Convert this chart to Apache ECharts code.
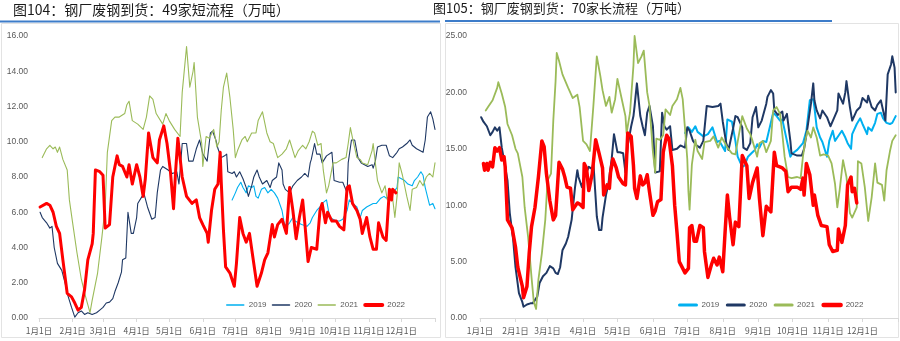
<!DOCTYPE html>
<html><head><meta charset="utf-8">
<script src="https://cdn.jsdelivr.net/npm/echarts@6/dist/echarts.min.js"></script>
<style>html,body{margin:0;padding:0;background:#fff;}#c{width:900px;height:341px;}</style>
</head><body><div id="c"></div>
<script>
const titleLeft = '图104：钢厂废钢到货：49家短流程（万吨）';
const titleRight = '图105：钢厂废钢到货：70家长流程（万吨）';
const seriesNames = ['2019', '2020', '2021', '2022'];
const monthDays = [0, 31, 59, 90, 120, 151, 181, 212, 243, 273, 304, 334];
const monthLabels = ['1月1日','2月1日','3月1日','4月1日','5月1日','6月1日','7月1日','8月1日','9月1日','10月1日','11月1日','12月1日'];

// Left chart: 49 short-process mills, [day of year, value]
const left2019 = [[178,6.7],[181,7.1],[183,7.4],[186,7.7],[188,7.4],[191,7.1],[193,7.5],[196,7.4],[198,7.5],[200,6.9],[202,6.8],[205,7.3],[208,7.4],[211,7.1],[214,7.3],[217,7.1],[220,6.8],[224,6.1],[226,5.4],[228,5.2],[231,5.4],[234,5.7],[236,5.5],[242,5.3],[247,5.2],[250,5.4],[252,5.7],[256,6.1],[259,6.3],[261,6.5],[265,6.7],[268,5.7],[271,5.6],[274,5.5],[277,5.5],[280,5.6],[284,6.1],[286,6.7],[289,6.5],[293,6.3],[296,5.7],[298,6.1],[302,6.3],[305,6.4],[308,6.5],[311,6.5],[315,6.8],[318,6.9],[320,6.8],[323,6.9],[326,7.1],[330,7.4],[331,8.0],[334,7.9],[337,7.8],[340,7.6],[344,7.5],[346,7.8],[349,8.0],[352,8.3],[354,8.1],[356,7.4],[358,6.9],[360,6.4],[363,6.5],[365,6.2]];
const left2020 = [[1,6.0],[3,5.7],[7,5.4],[10,5.1],[12,5.2],[14,4.0],[17,3.1],[21,2.7],[24,2.0],[26,1.4],[30,0.6],[33,0.05],[36,0.3],[39,0.4],[42,0.2],[45,0.3],[49,0.2],[53,0.3],[56,0.45],[59,0.6],[62,0.85],[65,0.9],[68,1.1],[70,1.5],[73,2.0],[76,2.6],[77,3.3],[80,3.4],[82,6.0],[85,4.8],[87,4.8],[90,5.7],[91,6.5],[95,6.9],[97,7.0],[100,6.3],[104,5.6],[107,5.7],[109,7.1],[112,8.4],[114,8.6],[119,8.4],[123,8.2],[127,8.3],[129,7.6],[131,9.1],[132,9.9],[136,9.9],[138,8.9],[142,8.9],[145,9.6],[148,10.1],[151,9.3],[155,8.9],[156,8.8],[158,10.5],[160,10.6],[163,10.1],[165,9.6],[168,9.1],[171,9.2],[173,9.3],[174,8.3],[178,8.2],[180,8.3],[182,8.0],[185,8.3],[188,7.9],[191,7.4],[193,6.9],[196,7.5],[198,8.0],[201,8.4],[203,8.0],[206,7.6],[210,7.8],[213,7.4],[215,7.8],[219,8.0],[221,8.8],[224,8.4],[225,7.6],[227,7.3],[231,7.1],[234,7.5],[238,7.8],[242,8.0],[245,8.2],[248,8.0],[250,8.8],[251,9.0],[254,9.9],[256,9.3],[259,9.3],[261,8.8],[265,9.2],[270,9.4],[272,7.8],[277,7.7],[280,7.7],[284,7.1],[285,8.8],[288,10.1],[291,10.1],[294,9.1],[297,8.8],[300,8.7],[303,8.6],[307,8.7],[308,8.5],[310,8.9],[312,9.7],[316,9.8],[320,9.8],[323,9.2],[326,9.1],[330,9.4],[332,9.6],[335,9.7],[339,9.9],[342,10.1],[344,9.8],[348,9.6],[351,9.5],[354,9.4],[356,10.1],[358,11.4],[361,11.7],[363,11.3],[365,10.7]];
const left2021 = [[3,9.1],[7,9.6],[10,9.8],[13,9.6],[15,9.7],[17,9.4],[19,9.7],[22,9.0],[26,8.4],[28,6.7],[31,5.4],[35,3.7],[39,2.2],[43,1.2],[47,0.3],[49,1.0],[54,2.55],[58,4.6],[61,6.3],[63,9.4],[67,11.2],[70,11.4],[74,11.4],[79,11.6],[81,12.1],[83,12.3],[86,11.2],[91,11.0],[96,10.7],[99,11.4],[102,12.6],[105,12.4],[108,11.6],[114,11.0],[117,11.6],[120,11.2],[125,10.7],[130,10.3],[132,12.8],[136,15.4],[139,13.1],[142,14.0],[143,14.5],[146,11.4],[150,9.9],[151,8.6],[154,10.3],[157,10.2],[161,10.7],[164,9.7],[166,10.0],[168,11.8],[170,13.1],[173,13.9],[176,12.5],[179,10.7],[181,9.1],[183,9.5],[187,10.1],[190,10.3],[192,10.0],[196,10.5],[200,10.5],[202,11.2],[206,11.7],[210,10.5],[213,10.0],[216,9.9],[220,9.1],[224,9.3],[228,9.6],[231,10.1],[234,9.5],[236,9.1],[239,9.5],[243,9.8],[246,9.6],[249,10.0],[252,10.6],[254,10.5],[257,9.8],[260,9.9],[262,8.4],[265,7.1],[267,7.5],[271,8.8],[274,8.8],[279,9.0],[283,9.1],[285,9.9],[287,10.8],[289,10.2],[293,9.1],[296,9.0],[298,8.8],[303,8.7],[307,9.5],[308,9.9],[310,8.8],[312,7.8],[316,7.1],[319,7.5],[321,6.7],[325,7.3],[328,5.7],[330,6.9],[332,8.8],[335,8.1],[339,6.9],[342,6.1],[344,7.3],[348,7.4],[351,7.8],[354,7.5],[357,8.0],[360,8.2],[363,8.0],[365,8.8]];
const left2022 = [[1,6.3],[7,6.5],[10,6.4],[13,6.0],[16,5.2],[19,4.8],[22,3.3],[26,1.4],[30,1.2],[33,0.85],[36,0.45],[39,0.6],[42,1.6],[45,3.3],[49,4.2],[50,4.8],[52,8.4],[56,8.3],[59,8.1],[61,5.1],[65,5.3],[68,8.0],[72,9.2],[74,8.7],[77,8.6],[81,8.0],[83,8.7],[86,7.6],[90,8.7],[93,8.0],[96,6.9],[98,7.9],[101,10.5],[105,9.1],[109,8.8],[111,10.1],[115,10.9],[118,9.9],[121,8.4],[124,6.2],[126,8.4],[128,10.2],[132,8.0],[136,6.9],[141,6.5],[145,6.7],[148,5.7],[151,5.3],[155,4.8],[156,4.3],[159,6.1],[162,7.3],[165,7.6],[167,9.4],[168,7.7],[170,5.0],[172,2.9],[176,2.55],[180,1.8],[182,3.1],[185,5.7],[188,4.8],[191,4.3],[194,4.8],[197,3.5],[201,1.8],[205,2.55],[208,3.3],[211,3.7],[215,5.3],[217,4.6],[220,5.3],[224,5.6],[228,4.8],[231,7.4],[234,6.1],[237,4.5],[240,5.7],[243,6.7],[245,5.4],[248,3.2],[251,4.0],[256,3.9],[259,6.1],[261,6.5],[264,5.4],[266,6.0],[270,5.5],[274,5.5],[277,5.2],[281,5.0],[284,7.4],[286,7.5],[289,6.5],[293,6.1],[296,5.6],[298,4.8],[302,5.7],[305,4.6],[308,3.9],[311,3.9],[313,5.4],[317,4.6],[320,4.4],[323,7.3],[325,6.7],[326,7.3],[329,7.1]];

// Right chart: 70 long-process mills, [day of year, value]
const right2019 = [[179,16.4],[182,16.9],[185,16.5],[188,17.0],[190,16.5],[195,16.1],[199,16.3],[203,16.9],[207,15.6],[209,15.7],[214,14.8],[216,17.6],[220,17.4],[223,15.7],[225,14.3],[229,13.4],[231,13.5],[234,14.3],[237,14.6],[240,14.9],[242,15.4],[244,15.1],[247,15.7],[250,15.6],[253,16.9],[256,18.2],[259,17.9],[262,17.5],[264,17.6],[268,15.7],[271,14.3],[273,14.6],[277,14.9],[282,15.5],[285,16.6],[288,19.3],[291,19.4],[292,18.7],[294,16.9],[297,16.0],[299,15.6],[303,14.3],[305,15.7],[308,16.6],[310,15.7],[312,16.0],[316,16.6],[319,16.0],[321,15.5],[324,15.0],[325,16.3],[329,17.2],[332,17.7],[334,17.2],[338,16.3],[339,16.9],[342,16.6],[345,17.3],[347,18.1],[350,18.2],[352,17.7],[355,17.3],[358,17.2],[360,17.3],[363,17.9]];
const right2020 = [[1,17.8],[3,17.4],[6,17.0],[9,16.2],[11,16.5],[13,16.9],[15,16.6],[17,16.9],[19,15.1],[21,14.0],[24,12.2],[26,9.3],[29,6.9],[31,4.5],[34,2.2],[37,1.4],[38,1.0],[41,1.2],[44,1.3],[46,1.3],[50,1.9],[52,3.1],[55,3.7],[58,4.0],[61,4.6],[64,4.4],[66,4.0],[68,3.9],[70,4.5],[72,6.0],[75,6.6],[77,7.2],[80,8.7],[83,11.6],[85,13.1],[86,12.5],[89,11.6],[91,12.5],[93,12.9],[95,13.4],[98,13.2],[99,13.8],[102,9.0],[104,7.8],[106,7.8],[107,8.9],[110,10.9],[112,11.8],[115,14.1],[117,16.3],[120,14.7],[122,14.7],[125,14.6],[127,12.9],[129,15.3],[132,17.0],[134,17.9],[135,18.8],[137,20.8],[140,17.9],[142,17.0],[144,16.2],[146,18.2],[148,18.8],[151,17.0],[153,12.9],[157,13.0],[159,18.2],[161,17.0],[163,16.7],[166,17.0],[168,14.9],[172,15.0],[175,15.3],[179,15.1],[181,16.9],[183,16.6],[186,15.7],[189,15.3],[192,15.1],[195,15.7],[198,18.8],[203,18.7],[208,18.8],[210,19.0],[212,17.4],[215,15.5],[217,14.9],[221,16.8],[223,17.9],[225,17.8],[229,16.9],[230,15.1],[233,14.9],[236,15.5],[238,17.8],[241,18.7],[243,16.9],[246,17.5],[250,19.0],[251,19.6],[254,20.2],[256,19.9],[257,18.4],[260,18.0],[264,18.3],[265,17.5],[268,18.1],[271,15.7],[272,14.6],[277,14.4],[281,14.4],[283,15.0],[286,16.9],[289,19.0],[291,20.8],[292,19.3],[294,18.4],[297,17.7],[299,18.4],[303,17.8],[306,17.0],[309,17.7],[312,18.4],[313,19.9],[317,19.0],[319,20.0],[320,21.0],[323,18.7],[325,17.5],[329,18.4],[332,18.7],[334,19.5],[338,19.1],[339,19.7],[342,18.7],[345,18.4],[347,18.9],[350,19.3],[352,18.4],[354,17.5],[356,21.6],[359,22.5],[360,23.2],[362,22.2],[363,20.0]];
const right2021 = [[5,18.4],[7,18.7],[11,19.3],[15,20.4],[16,20.9],[19,19.9],[22,18.7],[24,17.2],[28,16.2],[31,15.0],[33,14.6],[37,12.5],[39,9.8],[42,7.2],[45,3.6],[47,1.4],[49,0.8],[51,3.4],[54,5.7],[57,8.7],[59,12.2],[62,12.8],[64,17.5],[66,21.0],[67,23.5],[69,22.8],[72,21.6],[77,20.4],[81,19.5],[85,19.8],[87,18.7],[90,15.7],[93,15.4],[96,14.8],[99,18.8],[102,23.2],[105,21.5],[107,20.2],[110,18.8],[113,19.6],[115,18.2],[118,19.4],[120,21.2],[124,19.3],[127,17.9],[128,16.4],[131,18.2],[134,22.4],[135,25.0],[138,22.6],[141,23.2],[143,23.7],[146,20.0],[148,18.8],[151,14.7],[153,12.9],[154,15.9],[157,15.8],[160,16.2],[162,18.5],[166,18.0],[168,18.8],[172,19.4],[175,20.4],[177,19.4],[179,16.8],[181,14.1],[182,11.2],[183,9.6],[185,13.6],[188,15.8],[190,14.8],[194,14.1],[196,15.6],[201,15.7],[204,16.1],[208,15.1],[211,16.0],[214,15.5],[216,15.1],[220,14.6],[223,14.5],[229,17.9],[233,16.8],[236,16.3],[238,15.7],[242,14.3],[244,15.5],[247,15.7],[250,14.7],[254,15.7],[256,18.4],[259,18.7],[262,18.1],[264,16.3],[266,14.3],[269,12.5],[272,12.4],[277,12.5],[280,12.4],[282,14.3],[284,15.7],[286,16.6],[289,16.0],[291,16.9],[294,16.0],[297,14.4],[300,14.5],[304,14.4],[307,13.7],[310,11.9],[312,9.8],[314,11.3],[317,14.0],[320,12.5],[323,9.3],[325,8.9],[329,9.8],[330,13.9],[333,13.7],[336,11.6],[339,8.6],[342,10.7],[345,13.7],[347,12.0],[351,11.8],[353,10.4],[355,13.1],[358,14.8],[360,15.7],[363,16.2]];
const right2022 = [[3,13.7],[4,13.1],[6,13.7],[7,13.1],[9,13.8],[11,13.4],[13,15.1],[15,14.8],[17,15.1],[19,14.0],[21,14.3],[22,13.4],[24,8.7],[28,8.0],[31,6.3],[33,4.5],[37,2.8],[38,1.8],[41,2.8],[43,5.8],[45,8.1],[48,9.8],[51,12.5],[54,15.7],[56,15.2],[58,12.8],[61,10.4],[64,8.7],[66,9.1],[69,13.8],[72,13.2],[74,12.5],[76,11.6],[79,11.5],[81,9.6],[83,9.9],[85,10.2],[87,10.1],[90,9.8],[91,13.7],[93,13.3],[95,11.3],[98,12.8],[101,15.8],[104,14.6],[107,13.3],[108,10.9],[111,11.8],[113,11.5],[114,12.9],[116,14.1],[119,13.3],[121,12.5],[125,11.9],[127,11.8],[129,16.4],[132,16.1],[134,13.5],[135,11.5],[137,10.6],[140,12.6],[142,11.8],[144,12.0],[146,12.7],[148,11.2],[151,9.1],[153,9.5],[155,10.3],[158,10.5],[160,14.7],[163,16.2],[165,15.9],[168,13.5],[170,10.0],[172,7.6],[174,5.0],[177,4.4],[179,4.0],[182,4.4],[183,8.0],[185,8.2],[187,6.8],[189,6.8],[192,8.2],[195,8.0],[196,5.9],[199,3.6],[202,4.7],[204,5.3],[207,4.7],[209,5.4],[212,4.1],[214,7.6],[216,10.9],[218,8.9],[221,6.5],[223,8.5],[226,8.1],[229,14.4],[233,13.5],[235,10.6],[238,12.0],[242,13.3],[244,10.6],[247,7.3],[250,9.9],[254,9.4],[257,14.7],[259,13.5],[264,13.3],[267,13.0],[269,11.2],[272,11.6],[277,11.6],[280,11.4],[282,12.4],[283,10.9],[285,13.7],[288,12.7],[291,10.0],[292,10.9],[295,9.1],[298,8.2],[303,8.1],[305,6.5],[308,5.9],[312,6.0],[313,7.9],[316,6.7],[319,8.2],[321,11.8],[324,12.5],[325,11.2],[327,11.5],[329,10.2]];

const leftTicks = {min: 0, max: 16, interval: 2};
const rightTicks = {min: 0, max: 25, interval: 5};

const colors = {'2019': '#00B0F0', '2020': '#1F3864', '2021': '#9BBB59', '2022': '#FF0000'};
const leftWidths = {'2019': 1.1, '2020': 1.1, '2021': 1.1, '2022': 3};
const rightWidths = {'2019': 2, '2020': 2, '2021': 1.8, '2022': 3.5};
const leftLegendWidths = {'2019': 1.5, '2020': 1.5, '2021': 1.5, '2022': 4};
const rightLegendWidths = {'2019': 3, '2020': 3, '2021': 3, '2022': 4.5};

const leftData = {'2019': left2019, '2020': left2020, '2021': left2021, '2022': left2022};
const rightData = {'2019': right2019, '2020': right2020, '2021': right2021, '2022': right2022};

const FONT = '"Liberation Sans", "Noto Sans CJK SC", sans-serif';
const CJK = '"Noto Sans CJK SC", sans-serif';

function xAxis(gridIndex) {
  return {
    type: 'value', gridIndex, min: 0, max: 365,
    axisLine: {show: true, lineStyle: {color: '#d9d9d9', width: 1}},
    axisTick: {show: true, length: 4, lineStyle: {color: '#d9d9d9'}, customValues: monthDays.concat([365])},
    axisLabel: {show: true, customValues: monthDays, margin: 9, fontSize: 8.5, color: '#595959', fontFamily: CJK,
      formatter: v => monthLabels[monthDays.indexOf(v)] || ''},
    splitLine: {show: false}
  };
}
function yAxis(gridIndex, t, margin) {
  return {
    type: 'value', gridIndex, min: t.min, max: t.max, interval: t.interval,
    axisLine: {show: false}, axisTick: {show: false}, splitLine: {show: false},
    axisLabel: {fontSize: 8.5, color: '#595959', margin, fontFamily: FONT, formatter: v => v.toFixed(2)}
  };
}
function makeSeries(dataMap, widths, idx) {
  return seriesNames.map(n => ({
    name: n, type: 'line', xAxisIndex: idx, yAxisIndex: idx, data: dataMap[n],
    symbol: 'none', showSymbol: false, animation: false,
    lineStyle: {color: colors[n], width: widths[n], join: 'round', cap: 'round'},
    itemStyle: {color: colors[n]}, z: 2 + seriesNames.indexOf(n)
  }));
}
function legend(left, gap, iw, widths) {
  return {
    left, top: 301, padding: 0, itemGap: gap, itemWidth: iw, itemHeight: 8, selectedMode: false,
    textStyle: {fontSize: 8, color: '#595959', fontFamily: FONT},
    data: seriesNames.map(n => ({name: n, lineStyle: {color: colors[n], width: widths[n]}, itemStyle: {color: colors[n], opacity: 0}}))
  };
}

const chart = echarts.init(document.getElementById('c'), null, {renderer: 'canvas'});
chart.setOption({
  animation: false,
  backgroundColor: '#ffffff',
  grid: [
    {left: 39, top: 36, width: 396, height: 282},
    {left: 480, top: 36, width: 418, height: 282}
  ],
  xAxis: [xAxis(0), xAxis(1)],
  yAxis: [yAxis(0, leftTicks, 11), yAxis(1, rightTicks, 13)],
  legend: [legend(226, 5.2, 17, leftLegendWidths), legend(678, 6.5, 17, rightLegendWidths)],
  series: makeSeries(leftData, leftWidths, 0).concat(makeSeries(rightData, rightWidths, 1)),
  graphic: [
    {type: 'rect', shape: {x: 1.5, y: 23.5, width: 439, height: 314}, style: {fill: null, stroke: '#e3e3e3', lineWidth: 1}, silent: true},
    {type: 'rect', shape: {x: 445.5, y: 23.5, width: 453, height: 314}, style: {fill: null, stroke: '#e3e3e3', lineWidth: 1}, silent: true},
    {type: 'rect', shape: {x: 0, y: 20.5, width: 440, height: 2}, style: {fill: '#3D7CC9'}, silent: true},
    {type: 'rect', shape: {x: 445, y: 20, width: 387, height: 2}, style: {fill: '#3D7CC9'}, silent: true},
    {type: 'text', left: 13, top: 3, style: {text: titleLeft, font: '14px ' + CJK, fill: '#1a1a1a'}, silent: true},
    {type: 'text', left: 433, top: 2, style: {text: titleRight, font: '13px ' + CJK, fill: '#1a1a1a'}, silent: true}
  ]
});
</script></body></html>
